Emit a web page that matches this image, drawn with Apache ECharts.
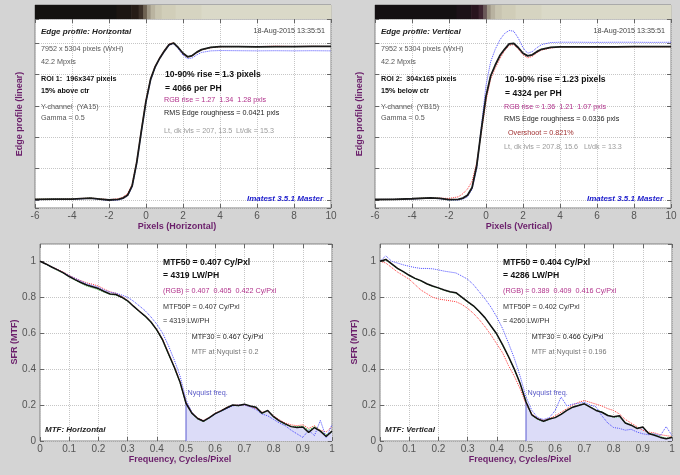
<!DOCTYPE html>
<html><head><meta charset="utf-8">
<script src="https://cdn.jsdelivr.net/npm/echarts@6/dist/echarts.min.js"></script>
<style>html,body{margin:0;padding:0;background:#d4d4d4}#c{width:680px;height:475px}</style>
</head><body><div id="c"></div><script>
// ---------- data ----------
const edgeX = [-6,-5,-4,-3,-2.5,-2,-1.5,-1.25,-1,-0.75,-0.5,-0.25,0,0.25,0.5,0.75,1,1.25,1.5,1.75,2,2.25,2.5,2.75,3,3.5,4,5,6,7,8,9,10];
const edgeH_Y = [0.004,0.006,0.006,0.012,0.006,0.0,0.004,0.012,0.03,0.09,0.24,0.44,0.63,0.77,0.85,0.905,0.95,0.99,1.0,0.97,0.935,0.912,0.92,0.942,0.958,0.972,0.977,0.977,0.976,0.977,0.977,0.978,0.978];
const edgeH_R = [0.004,0.006,0.008,0.012,0.008,0.002,0.008,0.018,0.04,0.1,0.25,0.45,0.64,0.775,0.855,0.91,0.955,0.995,1.002,0.968,0.93,0.91,0.918,0.94,0.956,0.97,0.976,0.978,0.977,0.98,0.978,0.979,0.978];
const edgeH_G = [0.004,0.006,0.006,0.012,0.006,0.0,0.004,0.012,0.03,0.09,0.24,0.44,0.63,0.77,0.85,0.905,0.95,0.99,1.0,0.97,0.935,0.912,0.92,0.942,0.958,0.972,0.977,0.977,0.976,0.977,0.977,0.978,0.978];
const edgeH_B = [0.002,0.004,0.004,0.01,0.004,-0.004,0.0,0.008,0.025,0.08,0.23,0.43,0.62,0.76,0.845,0.9,0.945,0.985,0.995,0.962,0.922,0.9,0.905,0.925,0.94,0.95,0.952,0.951,0.95,0.951,0.95,0.951,0.95];

const edgeV_Y = [0.003,0.004,0.008,0.014,0.01,0.002,0.004,0.012,0.03,0.08,0.22,0.45,0.66,0.79,0.86,0.92,0.96,0.995,0.998,0.97,0.935,0.918,0.925,0.945,0.96,0.972,0.976,0.976,0.976,0.976,0.977,0.977,0.977];
const edgeV_R = [0.003,0.004,0.008,0.014,0.012,0.01,0.02,0.04,0.07,0.12,0.24,0.43,0.63,0.77,0.84,0.9,0.95,0.985,0.99,0.96,0.925,0.905,0.915,0.938,0.955,0.968,0.975,0.975,0.974,0.975,0.976,0.976,0.976];
const edgeV_G = [0.003,0.004,0.008,0.014,0.01,0.0,0.002,0.01,0.028,0.08,0.22,0.45,0.66,0.79,0.86,0.92,0.96,0.995,0.998,0.97,0.935,0.918,0.925,0.945,0.96,0.972,0.976,0.976,0.976,0.976,0.977,0.977,0.977];
const edgeV_B = [0.003,0.004,0.006,0.012,0.008,0.0,0.0,0.006,0.02,0.07,0.2,0.47,0.73,0.88,0.96,1.02,1.06,1.08,1.075,1.03,0.97,0.935,0.945,0.97,0.99,1.003,1.005,1.005,1.004,1.005,1.005,1.004,1.005];

const mtfF = [0,0.02,0.04,0.06,0.08,0.1,0.12,0.14,0.16,0.18,0.2,0.22,0.24,0.26,0.28,0.3,0.32,0.34,0.36,0.38,0.4,0.42,0.44,0.46,0.48,0.5,0.52,0.54,0.56,0.58,0.6,0.62,0.64,0.66,0.68,0.7,0.72,0.74,0.76,0.78,0.8,0.82,0.84,0.86,0.88,0.9,0.92,0.94,0.96,0.98,1];
const mtfH_Y = [1.0,0.985,0.968,0.952,0.935,0.915,0.898,0.882,0.868,0.858,0.848,0.832,0.818,0.815,0.8,0.78,0.75,0.722,0.695,0.662,0.618,0.562,0.485,0.41,0.325,0.21,0.155,0.125,0.11,0.13,0.152,0.168,0.185,0.2,0.198,0.205,0.195,0.188,0.155,0.17,0.135,0.112,0.095,0.08,0.075,0.078,0.048,0.075,0.055,0.025,0.055];
const mtfH_R = [1.0,0.986,0.97,0.955,0.94,0.922,0.905,0.892,0.88,0.872,0.862,0.845,0.83,0.822,0.805,0.782,0.752,0.724,0.696,0.664,0.62,0.566,0.49,0.415,0.33,0.215,0.158,0.128,0.115,0.132,0.155,0.17,0.188,0.198,0.2,0.2,0.192,0.18,0.16,0.165,0.14,0.118,0.1,0.09,0.085,0.09,0.07,0.085,0.06,0.05,0.08];
const mtfH_G = [1.0,0.984,0.966,0.95,0.933,0.913,0.895,0.878,0.862,0.852,0.842,0.828,0.815,0.812,0.798,0.778,0.748,0.72,0.692,0.66,0.615,0.558,0.482,0.408,0.322,0.208,0.152,0.122,0.108,0.128,0.15,0.166,0.183,0.198,0.196,0.203,0.193,0.186,0.152,0.168,0.132,0.11,0.09,0.082,0.08,0.082,0.06,0.08,0.058,0.035,0.05];
const mtfH_B = [1.0,0.985,0.968,0.953,0.937,0.92,0.905,0.89,0.875,0.865,0.855,0.84,0.828,0.822,0.812,0.8,0.778,0.752,0.725,0.69,0.65,0.6,0.53,0.45,0.36,0.23,0.16,0.125,0.112,0.128,0.15,0.165,0.18,0.195,0.2,0.2,0.19,0.175,0.15,0.14,0.12,0.1,0.085,0.06,0.04,0.02,0.06,0.03,0.115,0.02,0.09];

const mtfV_Y = [1.0,1.01,0.985,0.96,0.942,0.922,0.905,0.892,0.875,0.862,0.852,0.84,0.83,0.825,0.8,0.775,0.752,0.72,0.685,0.64,0.595,0.535,0.47,0.4,0.32,0.218,0.145,0.123,0.11,0.122,0.13,0.148,0.17,0.188,0.198,0.207,0.188,0.17,0.16,0.142,0.135,0.14,0.1,0.088,0.07,0.078,0.042,0.032,0.02,0.013,0.02];
const mtfV_R = [1.0,0.99,0.965,0.94,0.92,0.9,0.87,0.84,0.82,0.8,0.79,0.785,0.78,0.775,0.76,0.738,0.71,0.675,0.635,0.59,0.54,0.49,0.42,0.36,0.29,0.205,0.15,0.125,0.115,0.125,0.14,0.16,0.18,0.2,0.215,0.225,0.215,0.205,0.195,0.18,0.17,0.15,0.12,0.1,0.08,0.06,0.05,0.045,0.035,0.03,0.025];
const mtfV_G = [1.0,1.008,0.984,0.958,0.94,0.92,0.903,0.89,0.873,0.86,0.85,0.838,0.828,0.822,0.798,0.772,0.75,0.718,0.683,0.638,0.592,0.532,0.468,0.398,0.318,0.215,0.143,0.12,0.108,0.12,0.132,0.15,0.172,0.19,0.2,0.205,0.19,0.172,0.162,0.145,0.132,0.135,0.1,0.09,0.072,0.075,0.045,0.035,0.025,0.015,0.022];
const mtfV_B = [1.0,1.03,1.0,0.99,0.98,0.972,0.965,0.96,0.96,0.958,0.952,0.945,0.94,0.935,0.918,0.9,0.87,0.83,0.79,0.745,0.69,0.625,0.545,0.46,0.36,0.245,0.17,0.13,0.12,0.13,0.17,0.245,0.195,0.205,0.21,0.215,0.2,0.19,0.14,0.1,0.075,0.07,0.06,0.065,0.05,0.04,0.035,0.04,0.03,0.08,0.03];

const nyquist = 0.5;

const stripEdges = [-6,-1.6,-0.8,-0.4,-0.15,0.05,0.25,0.5,0.85,1.6,3,10];
const stripColorsH = ['#141210','#1c1612','#261c16','#3c3028','#6e6252','#9e9684','#bab4a0','#c9c5b0','#d1ceb9','#d6d4c1','#dad9c8'];
const stripColorsV = ['#141012','#1c1218','#28141e','#3e2430','#6a5858','#9c9484','#b8b2a0','#c8c4b0','#d0cdb8','#d6d4c1','#dad9c8'];

// ---------- helpers ----------
const FONT = '"Liberation Sans", Arial, sans-serif';
const pairs = (xs, ys) => xs.map((x, i) => [x, ys[i]]);
const tick = {show:true, inside:true, length:4, lineStyle:{color:'#666', width:1}};
const split = {show:true, lineStyle:{color:'#c6c6c6', type:'dotted', width:1}};
const lbl = {color:'#555', fontSize:10, fontFamily:FONT};
const noLine = {show:false, onZero:false};

function mainX(grid, extra){ return Object.assign({type:'value', gridIndex:grid, position:'bottom', axisLine:noLine, axisTick:tick, splitLine:split, axisLabel:Object.assign({margin:3}, lbl)}, extra); }
function sideX(grid, extra){ return Object.assign({type:'value', gridIndex:grid, position:'top', axisLine:noLine, axisTick:tick, splitLine:{show:false}, axisLabel:{show:false}}, extra); }
function mainY(grid, extra){ return Object.assign({type:'value', gridIndex:grid, position:'left', axisLine:noLine, axisTick:tick, splitLine:split, axisLabel:Object.assign({margin:4}, lbl)}, extra); }
function sideY(grid, extra){ return Object.assign({type:'value', gridIndex:grid, position:'right', axisLine:noLine, axisTick:tick, splitLine:{show:false}, axisLabel:{show:false}}, extra); }
const hidden = (grid, extra) => Object.assign({type:'value', gridIndex:grid, show:false}, extra);

const edgeXopt = {min:-6, max:10, interval:2};
const edgeYopt = {min:-0.051, max:1.153, minInterval:0.2, maxInterval:0.2, axisLabel:{show:false}};
const mtfXopt = {min:0, max:1, interval:0.1};
const mtfYopt = {min:0, max:1.096, minInterval:0.2, maxInterval:0.2};

function line(xi, yi, data, color, dotted, width, z){
  return {type:'line', xAxisIndex:xi, yAxisIndex:yi, data:data, showSymbol:false, symbol:'none', silent:true, animation:false, z:z||2,
    lineStyle:{color:color, width:width, type:dotted?'dotted':'solid'}};
}
function strip(xi, yi, colors){
  const data = colors.map((c, i) => [stripEdges[i], stripEdges[i+1], i]);
  return {type:'custom', xAxisIndex:xi, yAxisIndex:yi, data:data, animation:false, silent:true,
    renderItem:function(params, api){
      const p0 = api.coord([api.value(0), 1]);
      const p1 = api.coord([api.value(1), 0]);
      return {type:'rect', shape:{x:p0[0], y:p0[1], width:p1[0]-p0[0]+0.6, height:p1[1]-p0[1]}, style:{fill:colors[api.value(2)]}};
    }};
}
function areaNyq(xi, yi, ys){
  const d = pairs(mtfF, ys).filter(p => p[0] >= nyquist);
  return {type:'line', xAxisIndex:xi, yAxisIndex:yi, data:d, showSymbol:false, symbol:'none', silent:true, animation:false, z:1,
    lineStyle:{width:0}, areaStyle:{color:'#dcdcf8', opacity:1}};
}
function nyqLine(xi, yi, ys){
  const v = ys[mtfF.indexOf(nyquist)];
  return line(xi, yi, [[nyquist, 0], [nyquist, v]], '#5a5ad0', false, 1, 3);
}

// ---------- texts ----------
const texts = [];
function T(x, y, s, o){
  o = o || {};
  texts.push({type:'text', x:x, y:y, rotation:o.rot||0, z:100, silent:true,
    style:{text:s, fill:o.color||'#222', font:(o.style||'')+' '+(o.weight||'normal')+' '+(o.size||7.5)+'px '+FONT,
      textAlign:o.align||'left', textVerticalAlign:'middle'}});
}
const BI = {style:'italic', weight:'bold', size:8};
[[0,'Horizontal','1:  196x347 pixels','15% above ctr','(YA15)'],[340,'Vertical','2:  304x165 pixels','15% below ctr','(YB15)']].forEach(([dx,name,roi,pos,ch]) => {
  T(41+dx, 31.5, 'Edge profile: '+name, BI);
  T(325+dx, 31.5, '18-Aug-2015 13:35:51', {color:'#444', size:7.2, align:'right'});
  T(41+dx, 49.3, '7952 x 5304 pixels (WxH)', {color:'#555', size:7.2});
  T(41+dx, 62, '42.2 Mpxls', {color:'#555', size:7.2});
  T(41+dx, 79.3, 'ROI '+roi, {weight:'bold', size:7.2, color:'#111'});
  T(41+dx, 90.7, pos, {weight:'bold', size:7.2, color:'#111'});
  T(41+dx, 106.7, 'Y-channel  '+ch, {color:'#555', size:7.2});
  T(41+dx, 118, 'Gamma = 0.5', {color:'#555', size:7.2});
  T(323+dx, 198.3, 'Imatest 3.5.1 Master', {style:'italic', weight:'bold', size:8, color:'#1c1ccc', align:'right'});
  T(20+dx, 114, 'Edge profile (linear)', {weight:'bold', size:9, color:'#6b1f6b', align:'center', rot:Math.PI/2});
  T(15+dx, 342, 'SFR (MTF)', {weight:'bold', size:9, color:'#6b1f6b', align:'center', rot:Math.PI/2});
  T(180+dx, 459.3, 'Frequency, Cycles/Pixel', {weight:'bold', size:9, color:'#6b1f6b', align:'center'});
  T(45+dx, 429.3, 'MTF: '+name, BI);
});
T(177, 226.7, 'Pixels (Horizontal)', {weight:'bold', size:9, color:'#6b1f6b', align:'center'});
T(519, 226.7, 'Pixels (Vertical)', {weight:'bold', size:9, color:'#6b1f6b', align:'center'});

const BIG = {weight:'bold', size:8.6, color:'#111'};
T(165, 75, '10-90% rise = 1.3 pixels', BIG);
T(165, 88.3, '= 4066 per PH', BIG);
T(164, 100, 'RGB rise = 1.27  1.34  1.28 pxls', {color:'#b0308a', size:7.2});
T(164, 113.3, 'RMS Edge roughness = 0.0421 pxls', {color:'#222', size:7.2});
T(164, 130.7, 'Lt, dk lvls = 207, 13.5  Lt/dk = 15.3', {color:'#999', size:7.2});

T(505, 80, '10-90% rise = 1.23 pixels', BIG);
T(505, 93.3, '= 4324 per PH', BIG);
T(504, 106.7, 'RGB rise = 1.36  1.21  1.07 pxls', {color:'#b0308a', size:7.2});
T(504, 119.3, 'RMS Edge roughness = 0.0336 pxls', {color:'#222', size:7.2});
T(508, 132.7, 'Overshoot = 0.821%', {color:'#a03030', size:7.2});
T(504, 147.3, 'Lt, dk lvls = 207.8, 15.6   Lt/dk = 13.3', {color:'#999', size:7.2});

[[0,'0.407','4319','(RGB) = 0.407  0.405  0.422 Cy/Pxl','0.407','4319','0.467','0.2'],
 [340,'0.404','4286','(RGB) = 0.389  0.409  0.416 Cy/Pxl','0.402','4260','0.466','0.196']].forEach(([dx,m50,lw,rgb,m50p,lwp,m30,nq]) => {
  T(163+dx, 262.7, 'MTF50 = '+m50+' Cy/Pxl', BIG);
  T(163+dx, 276, '= '+lw+' LW/PH', BIG);
  T(163+dx, 290.7, rgb, {color:'#b0308a', size:7.2});
  T(163+dx, 307.3, 'MTF50P = '+m50p+' Cy/Pxl', {color:'#333', size:7.2});
  T(163+dx, 320.7, '= '+lwp+' LW/PH', {color:'#333', size:7.2});
  T(191.7+dx, 337.3, 'MTF30 = '+m30+' Cy/Pxl', {color:'#222', size:7.2});
  T(191.7+dx, 351.7, 'MTF at Nyquist = '+nq, {color:'#777', size:7.2});
  T(187.5+dx, 392.7, 'Nyquist freq.', {color:'#5a5ac8', size:7.2});
});

// ---------- option ----------
const gridBase = {show:true, backgroundColor:'#ffffff', borderColor:'#808080', borderWidth:1, containLabel:false};
const option = {
  backgroundColor:'#d4d4d4',
  animation:false,
  grid:[
    Object.assign({left:35, top:5, width:296, height:14}, gridBase),
    Object.assign({left:35, top:19, width:296, height:189}, gridBase),
    Object.assign({left:375, top:5, width:296, height:14}, gridBase),
    Object.assign({left:375, top:19, width:296, height:189}, gridBase),
    Object.assign({left:40, top:244, width:292, height:197}, gridBase),
    Object.assign({left:380, top:244, width:292, height:197}, gridBase)
  ],
  xAxis:[
    hidden(0, {min:-6, max:10}),
    mainX(1, edgeXopt), sideX(1, edgeXopt),
    hidden(2, {min:-6, max:10}),
    mainX(3, edgeXopt), sideX(3, edgeXopt),
    mainX(4, mtfXopt), sideX(4, mtfXopt),
    mainX(5, mtfXopt), sideX(5, mtfXopt)
  ],
  yAxis:[
    hidden(0, {min:0, max:1}),
    mainY(1, edgeYopt), sideY(1, edgeYopt),
    hidden(2, {min:0, max:1}),
    mainY(3, edgeYopt), sideY(3, edgeYopt),
    mainY(4, Object.assign({axisLabel:Object.assign({margin:4, showMaxLabel:false}, lbl)}, mtfYopt)), sideY(4, mtfYopt),
    mainY(5, Object.assign({axisLabel:Object.assign({margin:4, showMaxLabel:false}, lbl)}, mtfYopt)), sideY(5, mtfYopt)
  ],
  series:[
    strip(0, 0, stripColorsH),
    strip(3, 3, stripColorsV),
    line(1,1,pairs(edgeX, edgeH_R),'#ff3a3a',true,1),
    line(1,1,pairs(edgeX, edgeH_G),'#2eb82e',true,1),
    line(1,1,pairs(edgeX, edgeH_B),'#4a4aff',true,1),
    line(1,1,pairs(edgeX, edgeH_Y),'#1a1a1a',false,1.8,5),
    line(4,4,pairs(edgeX, edgeV_R),'#ff3a3a',true,1),
    line(4,4,pairs(edgeX, edgeV_G),'#2eb82e',true,1),
    line(4,4,pairs(edgeX, edgeV_B),'#4a4aff',true,1),
    line(4,4,pairs(edgeX, edgeV_Y),'#1a1a1a',false,1.8,5),
    areaNyq(6,6,mtfH_Y),
    nyqLine(6,6,mtfH_Y),
    line(6,6,pairs(mtfF, mtfH_R),'#ff3a3a',true,1),
    line(6,6,pairs(mtfF, mtfH_G),'#2eb82e',true,1),
    line(6,6,pairs(mtfF, mtfH_B),'#4a4aff',true,1),
    line(6,6,pairs(mtfF, mtfH_Y),'#111111',false,1.5,5),
    areaNyq(8,8,mtfV_Y),
    nyqLine(8,8,mtfV_Y),
    line(8,8,pairs(mtfF, mtfV_R),'#ff3a3a',true,1),
    line(8,8,pairs(mtfF, mtfV_G),'#2eb82e',true,1),
    line(8,8,pairs(mtfF, mtfV_B),'#4a4aff',true,1),
    line(8,8,pairs(mtfF, mtfV_Y),'#111111',false,1.5,5)
  ],
  graphic:texts
};
const chart = echarts.init(document.getElementById('c'), null, {renderer:'canvas'});
chart.setOption(option);
</script></body></html>
